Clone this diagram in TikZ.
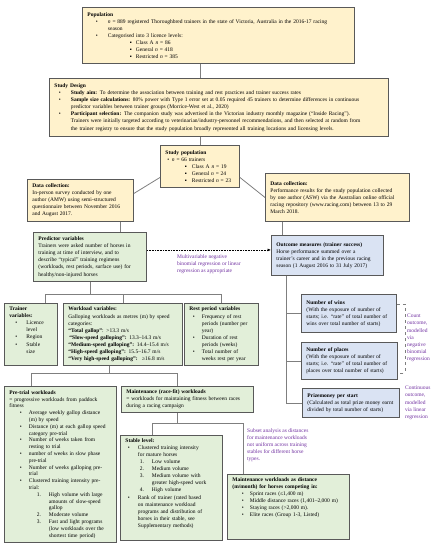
\documentclass[tikz,border=0pt]{standalone}
\usepackage{fontspec}
\setmainfont{Liberation Serif}
\usepackage{enumitem}
\usetikzlibrary{arrows.meta}
\definecolor{creamfill}{HTML}{FFF2CC}
\definecolor{varfill}{HTML}{E2EFD9}
\definecolor{outfill}{HTML}{DAE3F3}
\definecolor{boxline}{HTML}{595959}
\definecolor{linkgray}{HTML}{7F7F7F}
\definecolor{notepurple}{HTML}{7030A0}
\newcommand{\boxfont}{\fontsize{5.5}{7.1}\selectfont}
\newenvironment{dotlist}[2]{\begin{itemize}[label=\textbullet,nosep,leftmargin=#1pt,labelindent=#2pt,labelwidth=3pt,labelsep=*,align=left]}{\end{itemize}}
\newenvironment{sqlist}[2]{\begin{itemize}[label=▪,nosep,leftmargin=#1pt,labelindent=#2pt,labelwidth=3pt,labelsep=*,align=left]}{\end{itemize}}
\newenvironment{numlist}[2]{\begin{enumerate}[label=\arabic*.,nosep,leftmargin=#1pt,labelindent=#2pt,labelwidth=5pt,labelsep=*,align=left]}{\end{enumerate}}
\tikzset{
  box/.style={draw=boxline, line width=0.9pt, anchor=north west, align=left,
    inner xsep=5pt, inner ysep=3pt, font=\boxfont},
  popbox/.style={box, fill=creamfill},
  varbox/.style={box, fill=varfill},
  outbox/.style={box, fill=outfill},
  link/.style={draw=linkgray, line width=0.8pt},
  note/.style={text=notepurple, anchor=north west, align=left, inner sep=0pt, font=\boxfont}
}
\begin{document}
\begin{tikzpicture}[x=1pt, y=-1pt]
  \useasboundingbox (0,0) rectangle (437,550);
  % population and design
  \node[popbox, text width=262pt, minimum height=56pt] (pop) at (82,7) {\textbf{Population}\par
    \begin{dotlist}{20.5}{8.5}
    \item \textit{n} = 889 registered Thoroughbred trainers in the state of Victoria, Australia in the 2016-17 racing\\ season
    \item Categorised into 3 licence levels:
      \begin{sqlist}{28}{22}
      \item Class A \textit{n} = 86
      \item General \textit{n} = 418
      \item Restricted \textit{n} = 385
      \end{sqlist}
    \end{dotlist}};
  \node[popbox, text width=329pt, minimum height=58pt] (sd) at (49,78) {\textbf{Study Design}\par
    \begin{dotlist}{16.5}{4.5}
    \item \textbf{Study aim:} To determine the association between training and rest practices and trainer success rates
    \item \textbf{Sample size calculations:} 80\% power with Type 1 error set at 0.05 required 45 trainers to determine differences in continuous\\ predictor variables between trainer groups (Morrice-West et al., 2020)
    \item \textbf{Participant selection:} The companion study was advertised in the Victorian industry monthly magazine (“Inside Racing”).\\ Trainers were initially targeted according to veterinarian/industry-personnel recommendations, and then selected at random from\\ the trainer registry to ensure that the study population broadly represented all training locations and licensing levels.
    \end{dotlist}};
  \node[popbox, text width=69pt, minimum height=42pt] (sp) at (160,145) {\textbf{Study population}\par
    \begin{dotlist}{6.5}{2}
    \item \textit{n} = 66 trainers
      \begin{sqlist}{20}{13}
      \item Class A \textit{n} = 19
      \item General \textit{n} = 24
      \item Restricted \textit{n} = 23
      \end{sqlist}
    \end{dotlist}};
  % data collection
  \node[popbox, text width=96pt, minimum height=42pt] (dcl) at (27,179) {\textbf{Data collection:}\\
    In-person survey conducted by one\\ author (AMW) using semi-structured\\ questionnaire between November 2016\\ and August 2017.};
  \node[popbox, text width=134pt, minimum height=48pt] (dcr) at (265,173) {\textbf{Data collection:}\\
    Performance results for the study population collected\\ by one author (ASW) via the Australian online official\\ racing repository (www.racing.com) between 13 to 29\\ March 2018.};
  % predictors and outcomes
  \node[varbox, text width=103pt, minimum height=49pt] (pred) at (33,232) {\textbf{Predictor variables}\\
    Trainers were asked number of horses in\\ training at time of interview, and to\\ describe “typical” training regimens\\ (workloads, rest periods, surface use) for\\ healthy/non-injured horses};
  \node[outbox, text width=102pt, minimum height=40pt] (outc) at (271,235) {\textbf{Outcome measures (trainer success)}\\
    Horse performance summed over a\\ trainer’s career and in the previous racing\\ season (1 August 2016 to 31 July 2017)};
  \node[outbox, text width=85pt, minimum height=38pt] (wins) at (301,294) {\textbf{Number of wins}\\
    (With the exposure of number of\\ starts; i.e. “rate” of total number of\\ wins over total number of starts)};
  \node[outbox, text width=86pt, minimum height=37pt] (places) at (301,342) {\textbf{Number of places}\\
    (With the exposure of number of\\ starts; i.e. “rate” of total number of\\ places over total number of starts)};
  \node[outbox, text width=87pt, minimum height=29pt] (prize) at (302,388) {\textbf{Prizemoney per start}\\
    (Calculated as total prize money earnt\\ divided by total number of starts)};
  % variable groups
  \node[varbox, text width=43pt, minimum height=62pt] (trainer) at (4,303) {\textbf{Trainer}\\ \textbf{variables:}\par
    \begin{dotlist}{17}{6}
    \item Licence\\ level
    \item Region
    \item Stable\\ size
    \end{dotlist}\par\vspace{2pt}\hbox{}};
  \node[varbox, text width=109pt, minimum height=62pt] (workload) at (63,303) {\textbf{Workload variables:}\\
    Galloping workloads as metres (m) by speed\\ categories:\\
    \textbf{“Total gallop”}: >13.3 m/s\\
    \hspace{1pt}\textbf{“Slow-speed galloping”:} 13.3--14.3 m/s\\
    \textbf{“Medium-speed galloping”:} 14.4--15.4 m/s\\
    \textbf{“High-speed galloping”:} 15.5--16.7 m/s\\
    \textbf{“Very high-speed galloping”:} \ ≥16.8 m/s};
  \node[varbox, text width=64pt, minimum height=62pt] (rest) at (184,303) {\textbf{Rest period variables}\par
    \begin{dotlist}{12.5}{3.5}
    \item Frequency of rest\\ periods (number per\\ year)
    \item Duration of rest\\ periods (weeks)
    \item Total number of\\ weeks rest per year
    \end{dotlist}};
  % workload detail
  \node[varbox, text width=102pt, minimum height=156pt, font=\fontsize{5.5}{6.8}\selectfont] (pretrial) at (4,386) {\textbf{Pre-trial workloads}\\
    = progressive workloads from paddock\\ fitness\par
    \begin{dotlist}{19.5}{10.5}
    \item Average weekly gallop distance\\ (m) by speed
    \item Distance (m) at each gallop speed\\ category pre-trial
    \item Number of weeks taken from\\ resting to trial
    \item number of weeks in slow phase\\ pre-trial
    \item Number of weeks galloping pre-\\ trial
    \item Clustered training intensity pre-\\ trial:
      \begin{numlist}{20}{8}
      \item High volume with large\\ amounts of slow-speed\\ gallop
      \item Moderate volume
      \item Fast and light programs\\ (low workloads over the\\ shortest time period)
      \end{numlist}
    \end{dotlist}};
  \node[varbox, text width=122pt, minimum height=26pt] (maint) at (121,386) {\textbf{Maintenance (race-fit) workloads}\\
    = workloads for maintaining fitness between races\\ during a racing campaign};
  \node[varbox, text width=92pt] (stable) at (120,435) {\textbf{Stable level:}\par
    \begin{dotlist}{12.5}{2.5}
    \item Clustered training intensity\\ for mature horses
      \begin{numlist}{14}{2}
      \item Low volume
      \item Medium volume
      \item Medium volume with\\ greater high-speed work
      \item High volume
      \end{numlist}
    \item Rank of trainer (rated based\\ on maintenance workload\\ programs and distribution of\\ horses in their stable, see\\ Supplementary methods)
    \end{dotlist}\par\vspace{3pt}\hbox{}};
  \node[varbox, text width=112pt] (maintwl) at (227,474) {\textbf{Maintenance workloads as distance}\\
    \textbf{(m/month) for horses competing in:}\par
    \begin{dotlist}{17.5}{9.5}
    \item Sprint races (≤1,400 m)
    \item Middle distance races (1,401--2,000 m)
    \item Staying races (>2,000 m).
    \item Elite races (Group 1-3, Listed)
    \end{dotlist}\par\vspace{13pt}\hbox{}};
  % connectors
  \coordinate (treeA) at (0,294);
  \coordinate (treeB) at (0,373);
  \coordinate (treeC) at (0,423);
  \draw[link] (pop.south -| sp.north) -- (sd.north -| sp.north);
  \draw[link] (sd.south -| sp.north) -- (sp.north);
  \draw[link] ([yshift=-11pt]sp.west) -- ([yshift=7pt]dcl.east);
  \draw[link] ([yshift=-11pt]sp.east) -- (dcr.west);
  \draw[link] ([xshift=40pt]dcl.south) -- ([xshift=40pt]dcl.south |- pred.north);
  \draw[link] ([xshift=-55pt]dcr.south) -- ([xshift=-55pt]dcr.south |- outc.north);
  \draw[densely dotted, line width=0.6pt, -{Latex[length=3.5pt,width=3pt]}] ([yshift=7pt]pred.east) -- ([yshift=7pt]pred.east -| outc.west);
  \draw[link] (pred.south) -- (pred.south |- treeA) -| ([xshift=14.5pt]trainer.north);
  \draw[link] (pred.south |- treeA) -| (workload.north);
  \draw[link] (pred.south |- treeA) -| (rest.north);
  \draw[link] ([xshift=-13.5pt]workload.south) -- ([xshift=-13.5pt]workload.south |- treeB) -| ([xshift=-29pt]pretrial.north);
  \draw[link] ([xshift=-13.5pt]workload.south |- treeB) -| ([xshift=-10pt]maint.north);
  \draw[link] ([xshift=-10pt]maint.south) -- ([xshift=-10pt]maint.south |- treeC) -| ([xshift=-19pt]stable.north);
  \draw[link] ([xshift=-10pt]maint.south |- treeC) -| ([xshift=-45pt]maintwl.north);
  \draw[link] ([xshift=-41pt]outc.south) |- (wins.west);
  \draw[link] ([xshift=-41pt]outc.south) |- (places.west);
  \draw[link] ([xshift=-41pt]outc.south) |- (prize.west);
  \draw[linkgray, dashed, line width=0.5pt] ([yshift=9pt]wins.east) -- ++(8,0) |- ([yshift=-12pt]places.east);
  % notes
  \node[note] (noteA) at (177,254) {Multivariable negative\\ binomial regression or linear\\ regression as appropriate};
  \node[note] (noteB) at (247,428) {Subset analysis as distances\\ for maintenance workloads\\ not uniform across training\\ stables for different horse\\ types.};
  \node[note] (noteC) at (407,314) {Count\\ outcome,\\ modelled\\ via\\ negative\\ binomial\\ regression};
  \node[note] (noteD) at (405,386) {Continuous\\ outcome,\\ modelled\\ via linear\\ regression};
\end{tikzpicture}
\end{document}
